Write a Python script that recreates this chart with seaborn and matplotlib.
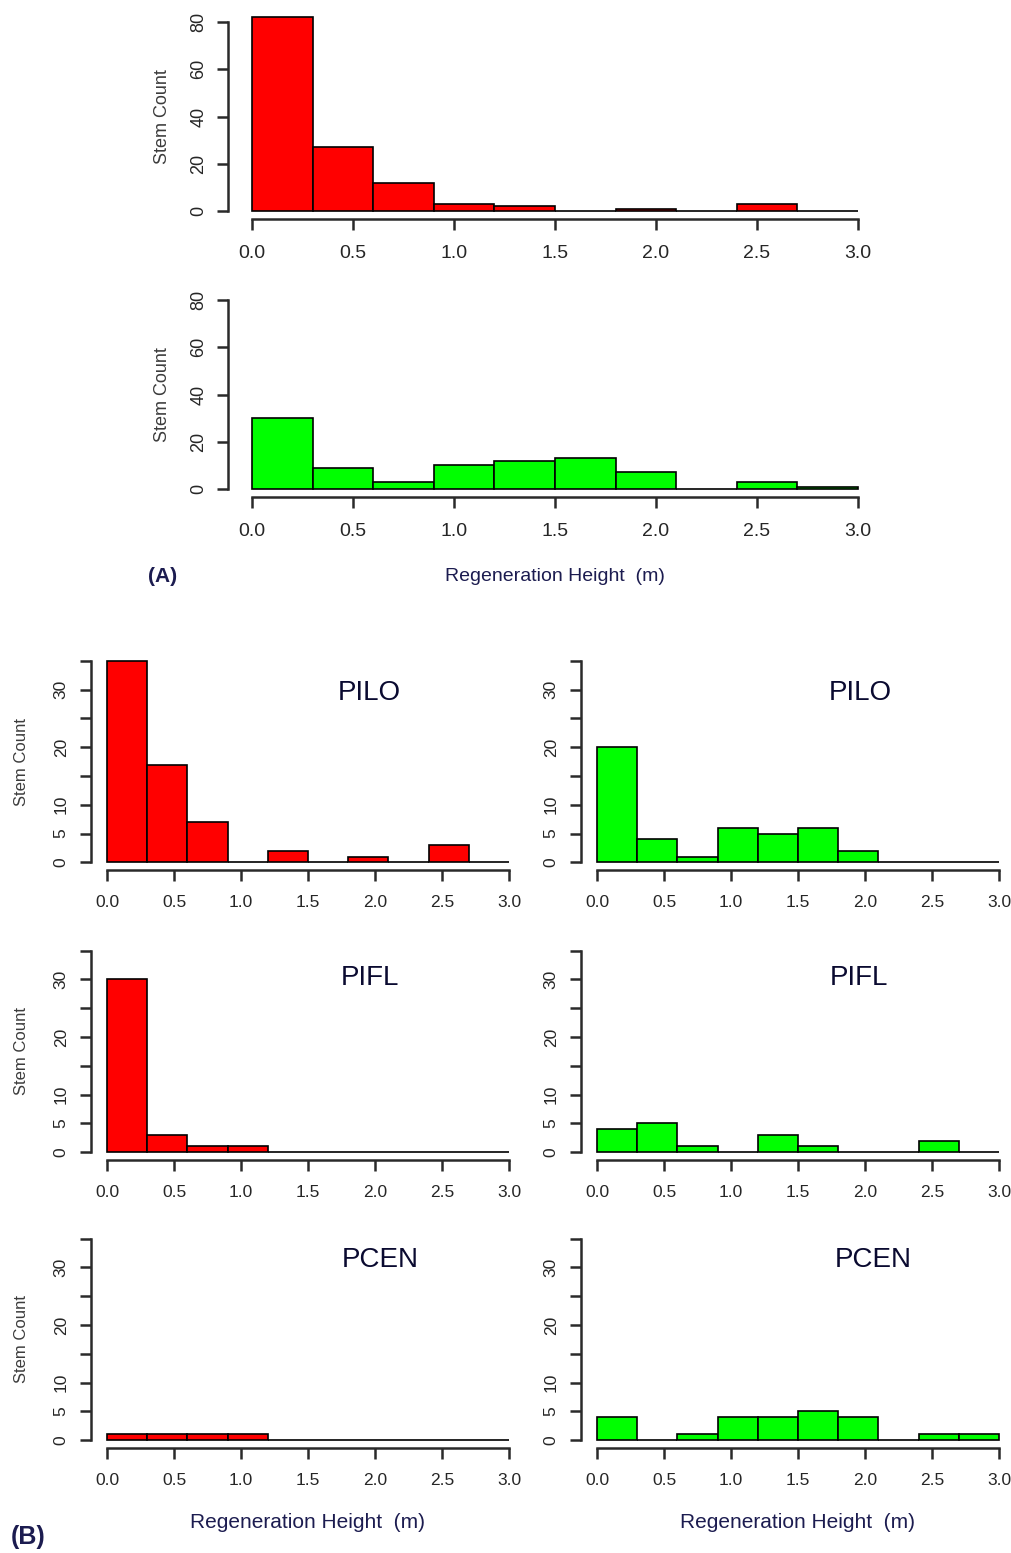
import numpy as np
import pandas as pd
import matplotlib
matplotlib.use("Agg")
import matplotlib.pyplot as plt
import seaborn as sns

# bin layout: 10 bins of 0.3 m from 0 to 3 m
bin_centers = [0.15, 0.45, 0.75, 1.05, 1.35, 1.65, 1.95, 2.25, 2.55, 2.85]

# (A) all species pooled
a_red = [82, 27, 12, 3, 2, 0, 1, 0, 3, 0]
a_green = [30, 9, 3, 10, 12, 13, 7, 0, 3, 1]

# (B) by species
species = ["PILO", "PIFL", "PCEN"]
b_red = {
    "PILO": [35, 17, 7, 0, 2, 0, 1, 0, 3, 0],
    "PIFL": [30, 3, 1, 1, 0, 0, 0, 0, 0, 0],
    "PCEN": [1, 1, 1, 1, 0, 0, 0, 0, 0, 0],
}
b_green = {
    "PILO": [20, 4, 1, 6, 5, 6, 2, 0, 0, 0],
    "PIFL": [4, 5, 1, 0, 3, 1, 0, 0, 2, 0],
    "PCEN": [4, 0, 1, 4, 4, 5, 4, 0, 1, 1],
}

x_ticks = [0.0, 0.5, 1.0, 1.5, 2.0, 2.5, 3.0]
x_ticklabels = ["0.0", "0.5", "1.0", "1.5", "2.0", "2.5", "3.0"]
a_yticks = [0, 20, 40, 60, 80]
b_yticks = [0, 5, 10, 15, 20, 25, 30, 35]
b_yticklabels = ["0", "5", "10", "", "20", "", "30", ""]

sns.set_style("ticks")
plt.rcParams['font.family'] = ['Liberation Sans', 'DejaVu Sans']

W, H = 1012, 1553
fig = plt.figure(figsize=(W / 100, H / 100), dpi=100)

NAVY = '#1c1c50'
GREY = '#3c3c3c'


def px_axes(x0, x1, ytop, ybot):
    return fig.add_axes([x0 / W, 1 - ybot / H, (x1 - x0) / W, (ybot - ytop) / H])


def draw_hist(ax, counts, color, ylim, ymax_tick):
    df = pd.DataFrame({"height": bin_centers, "count": counts})
    sns.histplot(data=df, x="height", weights="count", bins=10, binrange=(0, 3),
                 color=color, alpha=1, edgecolor="black", linewidth=1.2, ax=ax)
    ax.set_xlim(-0.12, 3.12)
    ax.set_ylim(*ylim)
    for s in ["top", "right"]:
        ax.spines[s].set_visible(False)
    ax.spines["left"].set_bounds(0, ymax_tick)
    ax.spines["bottom"].set_bounds(0, 3)
    for s in ["left", "bottom"]:
        ax.spines[s].set_linewidth(1.8)
        ax.spines[s].set_color("#2a2a2a")
    ax.set_xticks(x_ticks)
    ax.set_xticklabels(x_ticklabels)
    ax.tick_params(axis="both", length=8, width=1.8, color="#2a2a2a")
    ax.set_xlabel("")
    ax.set_ylabel("")


# ---- panel (A) ----
a_ylim = (-3.2, 83.2)
axA1 = px_axes(228, 882, 14.4, 218.6)
axA2 = px_axes(228, 882, 292.4, 496.6)
for ax, counts, col in [(axA1, a_red, "#ff0000"), (axA2, a_green, "#00ff00")]:
    draw_hist(ax, counts, col, a_ylim, 80)
    ax.set_yticks(a_yticks)
    ax.set_yticklabels([str(v) for v in a_yticks], rotation=90, va="center")
    ax.tick_params(axis="y", labelsize=13, pad=7)
    ax.tick_params(axis="x", labelsize=14, pad=11)
    ax.set_ylabel("Stem Count", fontsize=13, color=GREY, labelpad=14)

axA2.set_xlabel("Regeneration Height  (m)", fontsize=14, color=NAVY, labelpad=20)
fig.text(163 / W, 1 - 577 / H, "(A)", fontsize=15, fontweight="bold",
         color=NAVY, ha="center", va="center")

# ---- panel (B) ----
b_ylim = (-1.4, 36.4)
cols = [(91, 525, b_red, "#ff0000"), (581, 1015, b_green, "#00ff00")]
rows = [(652.9, 870.4), (942.6, 1160.1), (1230.6, 1448.1)]
title_y = [693, 978, 1260]
title_x = [(369, 860), (370, 859), (380, 873)]

for r, sp in enumerate(species):
    ytop, ybot = rows[r]
    for c, (x0, x1, data, col) in enumerate(cols):
        ax = px_axes(x0, x1, ytop, ybot)
        draw_hist(ax, data[sp], col, b_ylim, 35)
        ax.set_yticks(b_yticks)
        ax.set_yticklabels(b_yticklabels, rotation=90, va="center")
        ax.tick_params(axis="y", labelsize=12.5, pad=8)
        ax.tick_params(axis="x", labelsize=12.5, pad=10)
        if c == 0:
            ax.set_ylabel("Stem Count", fontsize=12, color=GREY, labelpad=18)
        if r == 2:
            ax.set_xlabel("Regeneration Height  (m)", fontsize=15, color=NAVY,
                          labelpad=18)
        tx = title_x[r][c]
        fig.text(tx / W, 1 - title_y[r] / H, sp, fontsize=20, color="#0a0a30",
                 ha="center", va="center")

fig.text(28 / W, 1 - 1537 / H, "(B)", fontsize=18, fontweight="bold",
         color=NAVY, ha="center", va="center")

fig.savefig("out.png", dpi=100, facecolor="white")
